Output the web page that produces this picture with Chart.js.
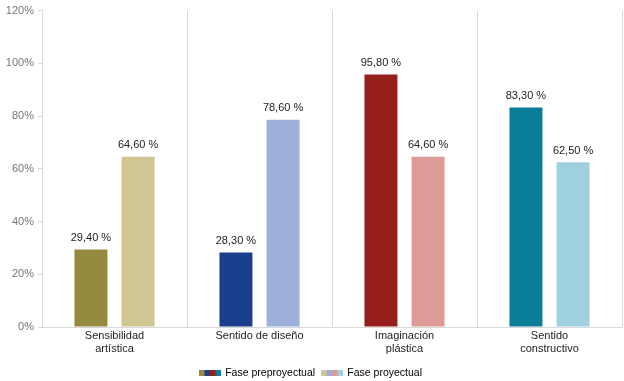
<!DOCTYPE html>
<html>
<head>
<meta charset="utf-8">
<script src="https://cdn.jsdelivr.net/npm/chart.js@4/dist/chart.umd.min.js"></script>
<style>
  html, body { margin: 0; padding: 0; background: #fff; }
  #wrap { width: 624px; height: 381px; position: relative; }
</style>
</head>
<body>
<div id="wrap"><canvas id="chart"></canvas></div>
<script>
const categories = [['Sensibilidad', 'artística'], 'Sentido de diseño', ['Imaginación', 'plástica'], ['Sentido', 'constructivo']];
const seriesNames = ['Fase preproyectual', 'Fase proyectual'];
const preValues = [29.4, 28.3, 95.8, 83.3];
const proValues = [64.6, 78.6, 64.6, 62.5];
const yTicks = [0, 20, 40, 60, 80, 100, 120];

const preColors = ['#968a3e', '#1b3f8b', '#962019', '#0a7e99'];
const proColors = ['#cfc694', '#9cb0da', '#de9a97', '#9fd0e0'];

// striped legend swatch made of every category colour
const swatch = (colors) => {
  const c = document.createElement('canvas');
  c.width = 22;
  c.height = 6;
  const ctx = c.getContext('2d');
  const w = c.width / colors.length;
  colors.forEach((col, i) => {
    ctx.fillStyle = col;
    ctx.fillRect(i * w, 0, w + 0.5, c.height);
  });
  return c;
};

const valueLabels = {
  id: 'valueLabels',
  afterDatasetsDraw(chart) {
    const { ctx } = chart;
    ctx.save();
    ctx.font = '11px "Liberation Sans", Arial, sans-serif';
    ctx.fillStyle = '#222';
    ctx.textAlign = 'center';
    ctx.textBaseline = 'bottom';
    chart.data.datasets.forEach((ds, i) => {
      chart.getDatasetMeta(i).data.forEach((bar, j) => {
        const text = ds.data[j].toFixed(2).replace('.', ',') + ' %';
        ctx.fillText(text, bar.x, bar.y - 6);
      });
    });
    ctx.restore();
  },
};

const swatches = [swatch(preColors), swatch(proColors)];

new Chart(document.getElementById('chart'), {
  type: 'bar',
  data: {
    labels: categories,
    datasets: [
      { label: seriesNames[0], data: preValues, backgroundColor: preColors },
      { label: seriesNames[1], data: proValues, backgroundColor: proColors },
    ],
  },
  options: {
    responsive: true,
    maintainAspectRatio: false,
    animation: false,
    categoryPercentage: 0.65,
    barPercentage: 0.7,
    layout: { padding: { top: 4, right: 2, left: 0, bottom: -7 } },
    font: { family: '"Liberation Sans", Arial, sans-serif' },
    plugins: {
      tooltip: { enabled: false },
      legend: {
        position: 'bottom',
        labels: {
          usePointStyle: true,
          pointStyleWidth: 20,
          padding: 7,
          color: '#444',
          font: { size: 10.5, family: '"Liberation Sans", Arial, sans-serif' },
          generateLabels: (chart) => chart.data.datasets.map((ds, i) => ({
            text: ds.label,
            pointStyle: swatches[i],
            fillStyle: preColors[0],
            strokeStyle: 'transparent',
            lineWidth: 0,
            datasetIndex: i,
            hidden: false,
          })),
        },
      },
    },
    scales: {
      x: {
        grid: { color: '#d9d9d9', drawTicks: false, offset: true },
        border: { color: '#d9d9d9' },
        ticks: {
          color: '#222',
          padding: 2,
          font: { size: 11, family: '"Liberation Sans", Arial, sans-serif' },
        },
        afterFit: (axis) => { axis.height += 3; },
      },
      y: {
        min: 0,
        max: 120,
        afterBuildTicks: (axis) => { axis.ticks = yTicks.map((v) => ({ value: v })); },
        grid: { drawOnChartArea: false, color: '#d9d9d9', tickLength: 4 },
        border: { color: '#d9d9d9' },
        ticks: {
          color: '#777',
          padding: 4,
          font: { size: 11, family: '"Liberation Sans", Arial, sans-serif' },
          callback: (v) => v + '%',
        },
        afterFit: (axis) => { axis.width = 42; },
      },
    },
  },
  plugins: [valueLabels],
});
</script>
</body>
</html>
